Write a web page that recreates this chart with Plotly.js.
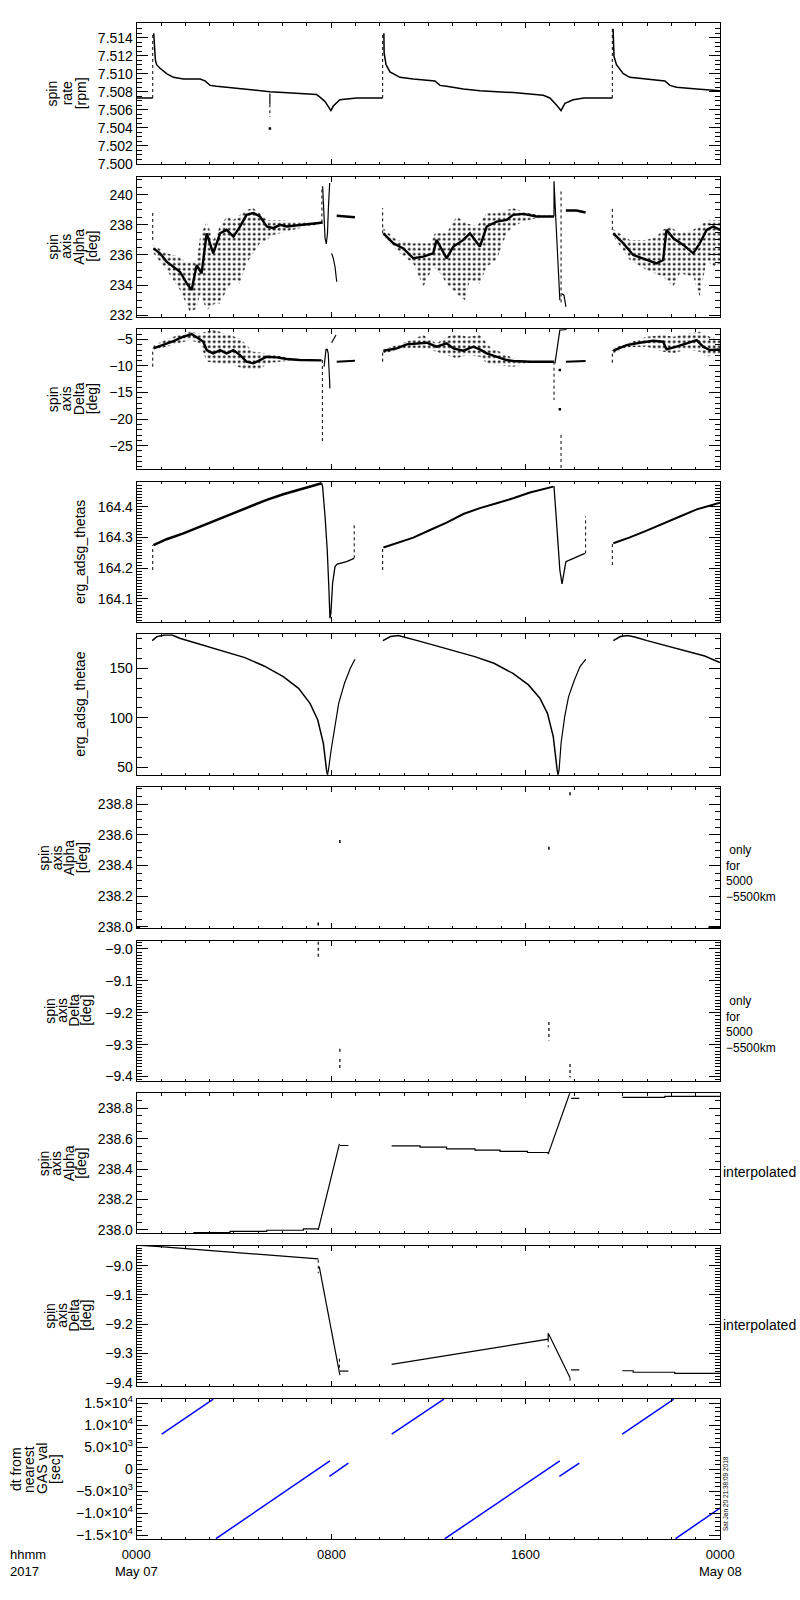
<!DOCTYPE html>
<html><head><meta charset="utf-8">
<script src="https://cdn.plot.ly/plotly-3.0.1.min.js"></script>
<style>body{margin:0;background:#fff}#chart{width:800px;height:1600px}</style>
</head><body><div id="chart"></div>
<script>
// ===== DATA (time in hours from 2017-05-07 00:00) =====
// Panel 1: spin rate [rpm]
const ratePre_t = [0, 0.66];
const ratePre_v = [7.5073, 7.5073];
const rateA_t = [0.70,0.73,0.77,0.82,0.96,1.23,1.51,1.92,2.61,2.81,3.02,3.29,3.98,4.66,5.48,6.03,6.72,7.40,7.54,7.75,7.99,8.09,8.36,8.91,9.05,10.12];
const rateA_v = [7.5145,7.5126,7.5115,7.5110,7.5106,7.5100,7.5096,7.5094,7.5094,7.5092,7.5087,7.5086,7.5084,7.5082,7.5080,7.5079,7.5078,7.5077,7.5074,7.5069,7.5059,7.5064,7.5071,7.5073,7.5073,7.5073];
const rateB_t = [10.17,10.18,10.26,10.42,10.83,11.38,12.27,12.48,12.75,13.44,14.12,15.49,16.73,17.00,17.28,17.46,17.62,17.96,18.40,19.57];
const rateB_v = [7.5145,7.5123,7.5110,7.5102,7.5096,7.5094,7.5092,7.5087,7.5086,7.5083,7.5081,7.5079,7.5076,7.5073,7.5065,7.5059,7.5067,7.5071,7.5073,7.5073];
const rateC_t = [19.60,19.62,19.64,19.74,20.02,20.29,20.98,21.73,21.94,22.21,23.04,24.0];
const rateC_v = [7.5150,7.5137,7.5119,7.5110,7.5100,7.5096,7.5094,7.5092,7.5087,7.5085,7.5083,7.5081];
const rateSpike_t = [0.66,0.66,null,5.48,5.48,null,10.12,10.12,null,19.57,19.57];
const rateSpike_v = [7.5073,7.5146,null,7.5066,7.5052,null,7.5073,7.5146,null,7.5073,7.5152];
const rateDip_t = [5.48,5.48];
const rateDip_v = [7.5078,7.5066];
const rateDot_t = [5.48];
const rateDot_v = [7.5039];

// Panel 2: spin axis Alpha [deg]
const alphaA_t = [0.69,0.96,1.23,1.51,1.78,2.06,2.26,2.47,2.67,2.88,3.15,3.43,3.70,3.98,4.25,4.52,4.80,5.07,5.35,5.62,5.90,6.17,6.44,6.72,7.40,7.65];
const alphaA_v = [236.44,236.11,235.56,235.22,234.89,234.11,233.67,235.33,234.78,237.44,236.11,237.44,237.67,237.22,237.89,238.67,238.78,238.56,237.89,237.78,238.0,237.89,237.93,238.0,238.11,238.16];
const alphaA_lo_t = [0.69,1.23,1.78,2.19,2.47,2.61,2.88,3.22,3.43,3.70,3.98,4.25,4.52,4.80,5.07,5.35,5.62,5.90,6.44,7.40,7.65];
const alphaA_lo_v = [236.11,235.0,233.67,232.22,232.44,233.44,232.33,232.78,232.78,233.67,234.33,234.11,235.44,236.11,236.78,237.0,237.33,237.44,237.67,238.0,238.11];
const alphaA_hi_t = [0.69,1.23,1.78,2.06,2.47,2.61,2.88,3.15,3.43,3.70,3.98,4.52,4.80,5.07,5.35,5.90,6.44,7.40,7.65];
const alphaA_hi_v = [236.67,236.11,235.89,235.44,235.67,237.22,238.22,237.0,237.89,238.56,238.33,239.0,239.11,238.78,238.33,238.33,238.22,238.16,238.2];
const alphaB_t = [10.15,10.56,10.97,11.38,11.79,12.20,12.34,12.75,13.03,13.44,13.71,14.12,14.40,14.81,15.22,15.49,15.91,16.45,17.17];
const alphaB_v = [237.44,236.78,236.44,235.78,235.89,236.11,237.0,235.78,236.56,237.0,237.44,236.56,237.89,238.22,238.33,238.67,238.73,238.56,238.56];
const alphaB_lo_t = [10.15,10.83,11.38,11.79,12.20,12.48,12.75,13.16,13.51,13.71,14.12,14.40,14.81,15.22,15.49,15.91,16.45,17.17];
const alphaB_lo_v = [237.22,236.11,235.44,233.89,235.22,234.78,234.11,233.44,233.0,234.33,234.11,235.22,235.67,237.44,237.89,238.22,238.44,238.51];
const alphaB_hi_t = [10.15,10.70,11.38,12.07,12.27,12.75,13.16,13.58,13.99,14.40,14.81,15.22,15.49,15.91,16.45,17.17];
const alphaB_hi_v = [237.78,237.0,236.78,236.78,237.44,237.44,238.56,238.11,237.89,238.78,238.78,239.0,239.11,238.89,238.67,238.6];
const alphaC_t = [19.61,20.02,20.43,20.98,21.39,21.66,21.80,22.08,22.49,22.90,23.17,23.45,23.72,24.0];
const alphaC_v = [237.44,236.78,236.0,235.67,235.44,235.67,237.67,237.11,236.67,236.11,236.78,237.67,237.89,237.67];
const alphaC_lo_t = [19.61,20.29,20.98,21.66,22.08,22.35,22.90,23.17,23.45,23.72,24.0];
const alphaC_lo_v = [237.22,235.67,235.0,234.56,233.89,234.78,234.56,233.22,235.67,235.22,235.44];
const alphaC_hi_t = [19.61,20.29,20.98,21.39,21.66,21.94,22.35,22.90,23.31,23.58,24.0];
const alphaC_hi_v = [237.71,237.0,237.0,237.22,237.67,237.89,237.44,237.67,238.11,238.33,238.33];
const alphaDotted_t = [0.66,0.66,null,7.62,7.62,null,10.12,10.12,null,17.46,17.46,null,19.57,19.57];
const alphaDotted_v = [237.0,238.89,null,238.16,240.56,null,237.44,239.11,null,240.22,232.67,null,237.67,239.11];
const alphaSpikeA_t = [7.65,7.71,7.75,7.80,7.85,7.89,7.94];
const alphaSpikeA_v = [240.56,238.56,237.11,236.73,237.44,239.22,240.78];
const alphaDescA_t = [8.02,8.09,8.16,8.23];
const alphaDescA_v = [236.11,235.78,235.22,234.22];
const alphaFlatA_t = [8.23,8.64,8.98];
const alphaFlatA_v = [238.60,238.56,238.51];
const alphaSpikeB_t = [17.17,17.17,17.18,17.24,17.32,17.39,17.41];
const alphaSpikeB_v = [238.56,240.89,240.56,238.56,236.11,233.67,233.0];
const alphaHookB_t = [17.48,17.58,17.66];
const alphaHookB_v = [233.44,233.33,232.56];
const alphaFlatB_t = [17.66,18.10,18.47];
const alphaFlatB_v = [238.96,238.96,238.82];

// Panel 3: spin axis Delta [deg]
const deltaA_t = [0.69,1.10,1.51,1.92,2.26,2.61,2.74,2.88,3.15,3.43,3.70,3.98,4.25,4.52,4.80,5.07,5.35,5.76,6.17,6.72,7.61];
const deltaA_v = [-6.69,-6.07,-5.31,-4.50,-4.0,-5.0,-5.44,-7.01,-7.63,-7.01,-7.63,-7.01,-7.95,-9.20,-9.51,-8.89,-8.26,-8.39,-8.70,-8.89,-8.95];
const deltaA_hi_t = [0.69,1.51,2.19,2.61,3.15,3.43,3.98,4.25,4.80,5.35,6.17,6.72,7.61];
const deltaA_hi_v = [-6.07,-4.50,-3.56,-3.87,-3.12,-3.56,-4.37,-4.81,-7.32,-7.63,-8.39,-8.76,-8.89];
const deltaA_lo_t = [0.69,1.51,2.19,2.61,2.88,3.43,3.98,4.52,5.07,5.35,6.17,6.72,7.61];
const deltaA_lo_v = [-7.01,-6.07,-5.13,-5.75,-9.20,-9.51,-9.83,-10.77,-10.77,-9.51,-9.08,-9.01,-9.01];
const deltaB_t = [10.15,10.70,11.11,11.52,11.93,12.34,12.75,13.03,13.44,13.85,14.12,14.40,14.81,15.22,15.49,16.18,17.17];
const deltaB_v = [-7.13,-6.69,-5.94,-5.75,-5.63,-6.38,-5.75,-6.69,-7.13,-6.38,-6.88,-7.63,-8.26,-8.89,-9.08,-9.20,-9.20];
const deltaB_hi_t = [10.15,11.11,11.79,12.34,12.75,13.16,13.58,14.12,14.53,15.08,15.49,16.18,17.17];
const deltaB_hi_v = [-6.88,-5.44,-4.18,-5.75,-4.50,-3.87,-4.50,-4.18,-6.38,-7.63,-8.57,-9.08,-9.14];
const deltaB_lo_t = [10.15,11.11,11.79,12.34,13.16,13.58,14.12,14.40,14.81,15.49,16.18,17.17];
const deltaB_lo_v = [-7.63,-6.69,-6.69,-7.32,-8.57,-7.95,-8.26,-9.51,-9.83,-10.14,-9.39,-9.26];
const deltaC_t = [19.61,20.16,20.70,21.25,21.66,21.80,22.21,22.62,23.04,23.31,23.58,24.0];
const deltaC_v = [-7.13,-6.07,-5.63,-5.25,-5.44,-6.88,-6.38,-5.75,-5.13,-6.38,-7.01,-6.88];
const deltaC_hi_t = [19.61,20.16,20.98,21.66,22.08,22.62,23.17,23.58,24.0];
const deltaC_hi_v = [-6.69,-5.75,-4.50,-4.18,-4.50,-4.0,-3.56,-4.50,-5.0];
const deltaC_lo_t = [19.61,20.16,20.98,21.66,22.08,22.62,23.17,23.45,23.72,24.0];
const deltaC_lo_v = [-7.63,-6.50,-6.38,-7.32,-7.63,-6.88,-7.32,-8.26,-7.95,-7.76];
const deltaDotted_t = [0.66,0.66,null,7.64,7.64,null,10.12,10.12,null,17.17,17.17,null,17.46,17.46,null,19.57,19.57];
const deltaDotted_v = [-10.14,-6.69,null,-8.89,-24.44,null,-9.20,-7.13,null,-9.20,-16.41,null,-22.99,-29.26,null,-9.39,-7.01];
const deltaSpikeA_t = [7.71,7.75,7.79,7.84,7.88,7.93,7.95];
const deltaSpikeA_v = [-10.14,-7.63,-6.88,-6.88,-7.63,-12.02,-14.22];
const deltaUpA_t = [8.02,8.09,8.20];
const deltaUpA_v = [-5.63,-5.13,-4.18];
const deltaFlatA_t = [8.23,8.64,8.98];
const deltaFlatA_v = [-9.20,-9.14,-9.01];
const deltaSpikeB_t = [17.21,17.28,17.35,17.41,17.69];
const deltaSpikeB_v = [-9.51,-7.01,-4.50,-3.24,-3.12];
const deltaDotsB_t = [17.41,17.41];
const deltaDotsB_v = [-10.77,-18.17];
const deltaFlatB_t = [17.66,18.10,18.47];
const deltaFlatB_v = [-9.20,-9.14,-9.08];

// Panel 4: erg_adsg_thetas
const thetasA_t = [0.69,1.23,1.92,2.61,3.29,3.98,4.66,5.35,6.03,6.72,7.40,7.61];
const thetasA_v = [164.275,164.294,164.313,164.335,164.357,164.378,164.402,164.422,164.440,164.456,164.470,164.476];
const thetasDropA_t = [7.61,7.65,7.75,7.84,7.91,7.95,7.99,8.06,8.16,8.25,8.64,8.94];
const thetasDropA_v = [164.476,164.465,164.367,164.259,164.129,164.037,164.053,164.151,164.205,164.213,164.221,164.232];
const thetasB_t = [10.15,10.70,11.38,12.07,12.75,13.44,14.12,14.81,15.49,16.18,16.87,17.14];
const thetasB_v = [164.267,164.281,164.299,164.324,164.348,164.376,164.395,164.411,164.427,164.446,164.460,164.465];
const thetasDropB_t = [17.14,17.17,17.24,17.32,17.41,17.50,17.58,17.66,17.83,18.24,18.44];
const thetasDropB_v = [164.465,164.465,164.389,164.281,164.194,164.149,164.184,164.221,164.227,164.240,164.248];
const thetasC_t = [19.61,20.29,20.98,21.66,22.35,23.04,23.72,24.0];
const thetasC_v = [164.281,164.300,164.322,164.346,164.368,164.391,164.405,164.413];
const thetasDotted_t = [0.66,0.66,null,8.95,8.95,null,10.12,10.12,null,18.47,18.47,null,19.57,19.57];
const thetasDotted_v = [164.194,164.275,null,164.232,164.346,null,164.194,164.265,null,164.248,164.368,null,164.210,164.281];

// Panel 5: erg_adsg_thetae
const thetaeA_t = [0.64,0.83,1.14,1.46,1.77,2.25,2.88,3.66,4.45,5.24,6.03,6.66,7.13,7.45,7.68,7.81,7.85];
const thetaeA_v = [178.0,182.1,183.7,183.7,180.4,177.0,172.7,166.9,160.8,152.4,141.6,129.8,114.6,97.7,74.2,47.2,42.6];
const thetaeA2_t = [7.85,7.89,8.00,8.16,8.31,8.55,8.79,8.98];
const thetaeA2_v = [42.6,47.2,67.4,94.4,114.6,134.9,150.0,159.2];
const thetaeB_t = [10.13,10.44,10.76,11.07,11.55,12.33,13.12,13.91,14.70,15.48,16.12,16.59,16.90,17.14,17.30,17.34];
const thetaeB_v = [178.0,182.1,183.1,181.4,178.0,172.7,166.9,161.8,155.1,144.9,133.2,119.7,104.5,80.9,47.2,42.6];
const thetaeB2_t = [17.34,17.38,17.46,17.61,17.77,18.01,18.24,18.48];
const thetaeB2_v = [42.6,47.2,74.2,101.1,121.4,138.2,151.7,159.2];
const thetaeC_t = [19.61,19.90,20.21,20.53,21.00,21.79,22.58,23.37,24.0];
const thetaeC_v = [178.0,182.1,183.1,181.4,178.0,173.0,167.9,162.5,155.8];

// Panel 6: spin axis Alpha, only for 5000-5500 km
const alphaSel_t = [7.47,7.47,null,8.36,8.36,null,16.96,16.96,null,17.83,17.83];
const alphaSel_v = [238.009,238.041,null,238.546,238.568,null,238.503,238.525,null,238.858,238.895];
const alphaSelEdge_t = [0,0.14,null,23.52,24];
const alphaSelEdge_v = [237.995,237.995,null,237.995,237.995];

// Panel 7: spin axis Delta, only for 5000-5500 km
const deltaSel_t = [7.47,7.47,null,8.36,8.36,null,8.36,8.36,null,16.96,16.96,null,17.83,17.83];
const deltaSel_v = [-8.977,-9.029,null,-9.313,-9.324,null,-9.345,-9.382,null,-9.229,-9.287,null,-9.361,-9.403];

// Panel 8: spin axis Alpha, interpolated
const alphaIntA_t = [2.33,3.84,3.84,5.35,5.35,6.86,6.86,7.47,7.47,8.34];
const alphaIntA_v = [237.982,237.982,237.991,237.991,237.998,237.998,238.007,238.007,238.000,238.566];
const alphaIntA2_t = [8.36,8.71];
const alphaIntA2_v = [238.555,238.555];
const alphaIntB_t = [10.49,11.66,11.66,12.75,12.75,13.92,13.92,14.95,14.95,16.08,16.08,16.93,16.93,16.97,17.83];
const alphaIntB_v = [238.553,238.553,238.544,238.544,238.533,238.533,238.524,238.524,238.516,238.516,238.509,238.509,238.498,238.516,238.904];
const alphaIntB2_t = [17.87,18.21];
const alphaIntB2_v = [238.864,238.864];
const alphaIntC_t = [19.98,21.73,21.73,24.0];
const alphaIntC_v = [238.871,238.871,238.878,238.878];

// Panel 9: spin axis Delta, interpolated
const deltaIntA_t = [0,0.96,7.47];
const deltaIntA_v = [-8.930,-8.935,-8.977];
const deltaIntA2_t = [7.51,8.36];
const deltaIntA2_v = [-9.003,-9.374];
const deltaIntA3_t = [8.36,8.71];
const deltaIntA3_v = [-9.360,-9.360];
const deltaIntB_t = [10.49,16.93,16.93,16.96,17.83];
const deltaIntB_v = [-9.337,-9.251,-9.231,-9.235,-9.383];
const deltaIntB2_t = [17.87,18.21];
const deltaIntB2_v = [-9.356,-9.356];
const deltaIntC_t = [19.98,20.43,20.43,22.14,22.14,24.0];
const deltaIntC_v = [-9.359,-9.359,-9.364,-9.364,-9.368,-9.368];
const deltaIntDots_t = [7.47,7.47,null,8.34,8.34,null,16.93,16.93,null,17.83,17.83];
const deltaIntDots_v = [-8.980,-9.026,null,-9.318,-9.358,null,-9.251,-9.279,null,-9.383,-9.401];

// Panel 10: dt from nearest GAS val [sec]
const dt1_t = [1.03,3.15],  dt1_v = [7955,15910];
const dt2_t = [3.26,7.95],  dt2_v = [-15833,1894];
const dt3_t = [7.93,8.71],  dt3_v = [-1667,1364];
const dt4_t = [10.49,12.64], dt4_v = [7955,15910];
const dt5_t = [12.68,17.41], dt5_v = [-15833,1894];
const dt6_t = [17.39,18.21], dt6_v = [-1667,1364];
const dt7_t = [19.98,22.10], dt7_v = [7955,15910];
const dt8_t = [22.17,24.0],  dt8_v = [-15833,-8864];

// Axis tick labels / texts
const xTickPos = [0, 8, 16, 24];
const xTickText = ['0000<br>May 07', '0800', '1600', '0000<br>May 08'];
const dtTickVals = [-15000,-10000,-5000,0,5000,10000,15000];
const dtTickText = ['\u22121.5\u00d710<sup>4</sup>','\u22121.0\u00d710<sup>4</sup>','\u22125.0\u00d710<sup>3</sup>','0','5.0\u00d710<sup>3</sup>','1.0\u00d710<sup>4</sup>','1.5\u00d710<sup>4</sup>'];

// ===== LAYOUT GEOMETRY =====
const W = 800, H = 1600;
const plotLeft = 136.7, plotRight = 720;
const panelTop = [23.3,176.7,329.3,481.7,634.3,787.3,940.7,1093.3,1245.7,1399];
const panelBot = [164.3,316.7,469,622.3,775,928.3,1081,1233.3,1386,1539];
const FONT = 'Liberation Sans, Arial, sans-serif';

const yAxisSpec = [
  {range:[7.49993,7.5156], tick0:7.5, dtick:0.002, minor:0.0005, fmt:'.3f'},
  {range:[231.9,241.2], tick0:0, dtick:2, minor:0.5, fmt:''},
  {range:[-29.4,-3.1], tick0:0, dtick:5, minor:1, fmt:''},
  {range:[164.024,164.481], tick0:0, dtick:0.1, minor:0.01, fmt:'.1f'},
  {range:[42.1,184.4], tick0:0, dtick:50, minor:10, fmt:''},
  {range:[237.99,238.91], tick0:0, dtick:0.2, minor:0.05, fmt:'.1f'},
  {range:[-9.414,-8.974], tick0:0, dtick:0.1, minor:0.01, fmt:'.1f'},
  {range:[237.978,238.898], tick0:0, dtick:0.2, minor:0.05, fmt:'.1f'},
  {range:[-9.411,-8.932], tick0:0, dtick:0.1, minor:0.01, fmt:'.1f'},
  {range:[-15900,15950], tick0:0, dtick:5000, minor:1000, fmt:''}
];

const layout = {
  width: W, height: H,
  margin: {l:0, r:0, t:0, b:0},
  paper_bgcolor: '#fff', plot_bgcolor: '#fff',
  showlegend: false, hovermode: false,
  font: {family: FONT, size: 14, color: '#000'},
  annotations: []
};

for (let i = 0; i < 10; i++) {
  const s = i === 0 ? '' : String(i + 1);
  const sp = yAxisSpec[i];
  layout['xaxis' + s] = {
    domain: [plotLeft / W, plotRight / W], range: [0, 24], anchor: 'y' + s,
    tickmode: 'linear', tick0: 0, dtick: 8, ticks: 'inside', ticklen: 5, tickwidth: 1, tickcolor: '#000',
    showticklabels: false, showline: true, linecolor: '#000', linewidth: 1, mirror: 'allticks',
    showgrid: false, zeroline: false, fixedrange: true,
    minor: {tickmode: 'linear', tick0: 0, dtick: 1, ticks: 'inside', ticklen: 2.5, tickwidth: 1, tickcolor: '#000', showgrid: false}
  };
  const ya = {
    domain: [1 - panelBot[i] / H, 1 - panelTop[i] / H], range: sp.range, anchor: 'x' + s,
    ticks: 'inside', ticklen: 11, tickwidth: 1, tickcolor: '#000',
    showline: true, linecolor: '#000', linewidth: 1, mirror: 'allticks',
    showgrid: false, zeroline: false, fixedrange: true,
    tickfont: {family: FONT, size: 14, color: '#000'},
    minor: {tickmode: 'linear', tick0: 0, dtick: sp.minor, ticks: 'inside', ticklen: 5.5, tickwidth: 1, tickcolor: '#000', showgrid: false}
  };
  if (i === 9) {
    ya.tickmode = 'array'; ya.tickvals = dtTickVals; ya.ticktext = dtTickText;
  } else {
    ya.tickmode = 'linear'; ya.tick0 = sp.tick0; ya.dtick = sp.dtick;
    if (sp.fmt) ya.tickformat = sp.fmt;
  }
  layout['yaxis' + s] = ya;
}

// ===== TRACES =====
const traces = [];
function ax(p) { return p === 1 ? '' : String(p); }
function add(p, x, y, opt) {
  traces.push(Object.assign({
    type: 'scatter', mode: 'lines', x: x, y: y,
    xaxis: 'x' + ax(p), yaxis: 'y' + ax(p),
    line: {color: '#000', width: 1.2}, hoverinfo: 'skip', showlegend: false, connectgaps: false
  }, opt || {}));
}
const DOT = {line: {color: '#000', width: 1, dash: 'dot'}};
const PTS = {mode: 'markers', marker: {color: '#000', size: 2.5, symbol: 'square'}};
const CORE = {line: {color: '#000', width: 2.4}};
function band(p, lo_t, lo_v, hi_t, hi_v) {
  add(p, lo_t, lo_v, {line: {width: 0, color: 'rgba(0,0,0,0)'}});
  add(p, hi_t, hi_v, {line: {width: 0, color: 'rgba(0,0,0,0)'}, fill: 'tonexty', fillcolor: 'rgba(0,0,0,0)',
    fillpattern: {shape: '.', fgcolor: '#000', bgcolor: 'rgba(0,0,0,0)', size: 5, solidity: 0.22}});
}

// Panel 1
add(1, ratePre_t, ratePre_v, {line: {color: '#000', width: 1.5}});
add(1, rateA_t, rateA_v, {line: {color: '#000', width: 1.5}});
add(1, rateB_t, rateB_v, {line: {color: '#000', width: 1.5}});
add(1, rateC_t, rateC_v, {line: {color: '#000', width: 1.5}});
add(1, rateSpike_t, rateSpike_v, DOT);
add(1, rateDip_t, rateDip_v, {line: {color: '#000', width: 1.2}});
add(1, rateDot_t, rateDot_v, PTS);

// Panel 2
band(2, alphaA_lo_t, alphaA_lo_v, alphaA_hi_t, alphaA_hi_v);
band(2, alphaB_lo_t, alphaB_lo_v, alphaB_hi_t, alphaB_hi_v);
band(2, alphaC_lo_t, alphaC_lo_v, alphaC_hi_t, alphaC_hi_v);
add(2, alphaA_t, alphaA_v, CORE);
add(2, alphaB_t, alphaB_v, CORE);
add(2, alphaC_t, alphaC_v, CORE);
add(2, alphaDotted_t, alphaDotted_v, DOT);
add(2, alphaSpikeA_t, alphaSpikeA_v);
add(2, alphaDescA_t, alphaDescA_v);
add(2, alphaFlatA_t, alphaFlatA_v, {line: {color: '#000', width: 2.5}});
add(2, alphaSpikeB_t, alphaSpikeB_v);
add(2, alphaHookB_t, alphaHookB_v);
add(2, alphaFlatB_t, alphaFlatB_v, {line: {color: '#000', width: 2.5}});

// Panel 3
band(3, deltaA_lo_t, deltaA_lo_v, deltaA_hi_t, deltaA_hi_v);
band(3, deltaB_lo_t, deltaB_lo_v, deltaB_hi_t, deltaB_hi_v);
band(3, deltaC_lo_t, deltaC_lo_v, deltaC_hi_t, deltaC_hi_v);
add(3, deltaA_t, deltaA_v, CORE);
add(3, deltaB_t, deltaB_v, CORE);
add(3, deltaC_t, deltaC_v, CORE);
add(3, deltaDotted_t, deltaDotted_v, DOT);
add(3, deltaSpikeA_t, deltaSpikeA_v);
add(3, deltaUpA_t, deltaUpA_v);
add(3, deltaFlatA_t, deltaFlatA_v, {line: {color: '#000', width: 2}});
add(3, deltaSpikeB_t, deltaSpikeB_v);
add(3, deltaDotsB_t, deltaDotsB_v, PTS);
add(3, deltaFlatB_t, deltaFlatB_v, {line: {color: '#000', width: 2}});

// Panel 4
add(4, thetasA_t, thetasA_v, {line: {color: '#000', width: 2.5}});
add(4, thetasDropA_t, thetasDropA_v, {line: {color: '#000', width: 1.3}});
add(4, thetasB_t, thetasB_v, {line: {color: '#000', width: 2}});
add(4, thetasDropB_t, thetasDropB_v, {line: {color: '#000', width: 1.3}});
add(4, thetasC_t, thetasC_v, {line: {color: '#000', width: 2}});
add(4, thetasDotted_t, thetasDotted_v, DOT);

// Panel 5
add(5, thetaeA_t, thetaeA_v, {line: {color: '#000', width: 1.5}});
add(5, thetaeA2_t, thetaeA2_v, {line: {color: '#000', width: 1.2}});
add(5, thetaeB_t, thetaeB_v, {line: {color: '#000', width: 1.5}});
add(5, thetaeB2_t, thetaeB2_v, {line: {color: '#000', width: 1.2}});
add(5, thetaeC_t, thetaeC_v, {line: {color: '#000', width: 1.5}});

// Panel 6
add(6, alphaSel_t, alphaSel_v, {line: {color: '#000', width: 1.5, dash: 'dot'}});
add(6, alphaSelEdge_t, alphaSelEdge_v, {line: {color: '#000', width: 2}});

// Panel 7
add(7, deltaSel_t, deltaSel_v, {line: {color: '#000', width: 1.2, dash: 'dot'}});

// Panel 8
add(8, alphaIntA_t, alphaIntA_v);
add(8, alphaIntA2_t, alphaIntA2_v);
add(8, alphaIntB_t, alphaIntB_v);
add(8, alphaIntB2_t, alphaIntB2_v);
add(8, alphaIntC_t, alphaIntC_v);

// Panel 9
add(9, deltaIntA_t, deltaIntA_v);
add(9, deltaIntA2_t, deltaIntA2_v);
add(9, deltaIntA3_t, deltaIntA3_v);
add(9, deltaIntB_t, deltaIntB_v);
add(9, deltaIntB2_t, deltaIntB2_v);
add(9, deltaIntC_t, deltaIntC_v);
add(9, deltaIntDots_t, deltaIntDots_v, DOT);

// Panel 10
const BLUE = {line: {color: '#0000ff', width: 1.5}};
[[dt1_t,dt1_v],[dt2_t,dt2_v],[dt3_t,dt3_v],[dt4_t,dt4_v],[dt5_t,dt5_v],[dt6_t,dt6_v],[dt7_t,dt7_v],[dt8_t,dt8_v]]
  .forEach(function (d) { add(10, d[0], d[1], BLUE); });

// ===== TEXT =====
function pxX(px) { return px / W; }
function pxY(py) { return 1 - py / H; }
function ann(text, px, py, opt) {
  layout.annotations.push(Object.assign({
    text: text, xref: 'paper', yref: 'paper', x: pxX(px), y: pxY(py),
    showarrow: false, xanchor: 'center', yanchor: 'middle',
    font: {family: FONT, size: 14, color: '#000'}
  }, opt || {}));
}
function panelMid(i) { return (panelTop[i] + panelBot[i]) / 2; }
const yTitles = [
  [['spin', 51.7], ['rate', 66.5], ['[rpm]', 80.5]],
  [['spin', 53], ['axis', 66], ['Alpha', 79], ['[deg]', 92]],
  [['spin', 53], ['axis', 66], ['Delta', 79], ['[deg]', 92]],
  [['erg_adsg_thetas', 80]],
  [['erg_adsg_thetae', 80]],
  [['spin', 44], ['axis', 56.5], ['Alpha', 69], ['[deg]', 81.5]],
  [['spin', 50], ['axis', 62], ['Delta', 74], ['[deg]', 86]],
  [['spin', 44], ['axis', 56.5], ['Alpha', 69], ['[deg]', 81.5]],
  [['spin', 50], ['axis', 62], ['Delta', 74], ['[deg]', 86]],
  [['dt from', 16], ['nearest', 29], ['GAS val', 42], ['[sec]', 55]]
];
yTitles.forEach(function (lines, i) {
  lines.forEach(function (l) { ann(l[0], l[1], panelMid(i), {textangle: -90}); });
});
// right-side notes
const noteOnly = '\u00a0only<br>for<br>5000<br>\u22125500km';
ann(noteOnly, 724, 873, {xanchor: 'left', align: 'left', font: {family: FONT, size: 12, color: '#000'}});
ann(noteOnly, 724, 1024, {xanchor: 'left', align: 'left', font: {family: FONT, size: 12, color: '#000'}});
ann('interpolated', 720.5, 1172, {xanchor: 'left'});
ann('interpolated', 720.5, 1325, {xanchor: 'left'});
// x tick labels (bottom)
xTickPos.forEach(function (xv, k) {
  layout.annotations.push({text: xTickText[k], xref: 'x10', yref: 'paper', x: xv, y: pxY(1545),
    showarrow: false, xanchor: 'center', yanchor: 'top', align: 'center',
    font: {family: FONT, size: 13, color: '#000'}});
});
ann('hhmm<br>2017', 8, 1545, {xanchor: 'left', yanchor: 'top', align: 'left', font: {family: FONT, size: 13, color: '#000'}});
ann('Sat Jan 20 21:38:09 2018', 725, 1494, {textangle: -90, font: {family: FONT, size: 6.5, color: '#000'}});

Plotly.newPlot('chart', traces, layout, {displayModeBar: false, staticPlot: true});
</script></body></html>
